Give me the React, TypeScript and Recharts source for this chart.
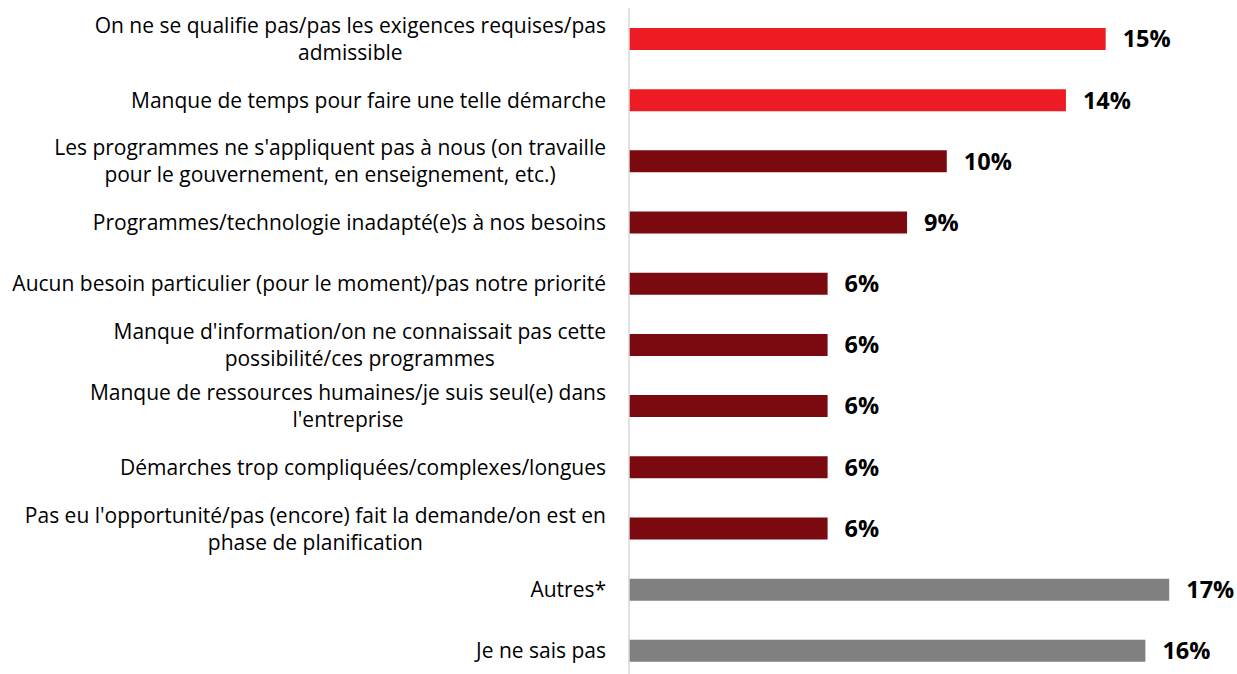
import { BarChart, Bar, XAxis, YAxis, Cell, LabelList } from "recharts";

// raisons invoquées (une ligne par réponse, "\n" = retour à la ligne du libellé)
const categories = [
  "On ne se qualifie pas/pas les exigences requises/pas\nadmissible",
  "Manque de temps pour faire une telle démarche",
  "Les programmes ne s'appliquent pas à nous (on travaille\npour le gouvernement, en enseignement, etc.)",
  "Programmes/technologie inadapté(e)s à nos besoins",
  "Aucun besoin particulier (pour le moment)/pas notre priorité",
  "Manque d'information/on ne connaissait pas cette\npossibilité/ces programmes",
  "Manque de ressources humaines/je suis seul(e) dans\nl'entreprise",
  "Démarches trop compliquées/complexes/longues",
  "Pas eu l'opportunité/pas (encore) fait la demande/on est en\nphase de planification",
  "Autres*",
  "Je ne sais pas",
];
const values = [15.0, 13.75, 10.0, 8.75, 6.25, 6.25, 6.25, 6.25, 6.25, 17.0, 16.25];
const groups = ["top", "top", "main", "main", "main", "main", "main", "main", "main", "other", "other"];

const groupColors: Record<string, string> = {
  top: "#ED1C24",
  main: "#7B0A10",
  other: "#808080",
};

const FONT = "'Open Sans', Lato, sans-serif";
const FONT_SIZE = 21;
const LINE_H = 27;
const LABEL_RIGHT = 606;

let ctx: CanvasRenderingContext2D | null = null;
function measure(text: string) {
  if (!ctx) ctx = document.createElement("canvas").getContext("2d");
  if (!ctx) return text.length * FONT_SIZE * 0.5;
  ctx.font = `${FONT_SIZE}px ${FONT}`;
  return ctx.measureText(text).width;
}

function CategoryTick({ y, payload }: any) {
  const lines = String(payload.value).split("\n");
  const widths = lines.map(measure);
  const blockW = Math.max(...widths);
  const cx = LABEL_RIGHT - blockW / 2;
  const first = y - ((lines.length - 1) * LINE_H) / 2;
  return (
    <text
      textAnchor="middle"
      fontFamily={FONT}
      fontSize={FONT_SIZE}
      fill="#000"
      dominantBaseline="central"
    >
      {lines.map((l, i) => (
        <tspan key={i} x={cx} y={first + i * LINE_H}>
          {l}
        </tspan>
      ))}
    </text>
  );
}

const data = categories.map((name, i) => ({ name, value: values[i], group: groups[i] }));

export default function App() {
  return (
    <div style={{ position: "absolute", left: 0, top: 0, width: 1237, height: 674, overflow: "hidden", background: "#fff" }}>
      <BarChart
        width={1237}
        height={681}
        data={data}
        layout="vertical"
        margin={{ top: 8, right: 36, left: 0, bottom: 0 }}
        barSize={22}
      >
        <XAxis type="number" domain={[0, 18]} hide />
        <YAxis
          type="category"
          dataKey="name"
          width={629}
          axisLine={{ stroke: "#D9D9D9", strokeWidth: 1.5 }}
          tickLine={false}
          tick={<CategoryTick />}
          interval={0}
        />
        <Bar dataKey="value" isAnimationActive={false}>
          {data.map((d, i) => (
            <Cell key={i} fill={groupColors[d.group]} />
          ))}
          <LabelList
            dataKey="value"
            position="right"
            offset={17}
            formatter={(v: any) => `${Math.round(Number(v))}%`}
            style={{ fontFamily: FONT, fontSize: 23.5, fontWeight: 700, fill: "#000" }}
          />
        </Bar>
      </BarChart>
    </div>
  );
}
